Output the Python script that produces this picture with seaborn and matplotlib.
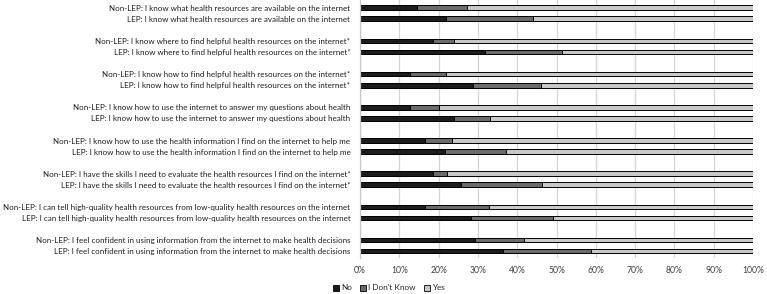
import matplotlib
matplotlib.use("Agg")
import matplotlib.pyplot as plt
from matplotlib.patches import Patch
import seaborn as sns
import pandas as pd

statements = [
    "I know what health resources are available on the internet",
    "I know where to find helpful health resources on the internet*",
    "I know how to find helpful health resources on the internet*",
    "I know how to use the internet to answer my questions about health",
    "I know how to use the health information I find on the internet to help me",
    "I have the skills I need to evaluate the health resources I find on the internet*",
    "I can tell high-quality health resources from low-quality health resources on the internet",
    "I feel confident in using information from the internet to make health decisions",
]
groups = ["Non-LEP", "LEP"]

# percentages per row (Non-LEP, LEP for each statement)
no_pct = [14.6, 21.9, 18.5, 31.7, 12.7, 28.7, 12.7, 23.9,
          16.6, 21.6, 18.5, 25.8, 16.6, 28.3, 29.2, 36.3]
dk_pct = [12.6, 22.2, 5.5, 19.6, 9.1, 17.3, 7.3, 9.3,
          6.9, 15.5, 3.7, 20.5, 16.2, 20.9, 12.5, 22.6]
yes_pct = [72.8, 55.9, 76.0, 48.7, 78.2, 54.0, 80.0, 66.8,
           76.5, 62.9, 77.8, 53.7, 67.2, 50.8, 58.3, 41.1]
series = ["No", "I Don't Know", "Yes"]
tick_labels = ["0%", "10%", "20%", "30%", "40%", "50%", "60%", "70%", "80%", "90%", "100%"]

rows = []
k = 0
for i, s in enumerate(statements):
    for j, g in enumerate(groups):
        pos = 3 * i + j
        rows.append(dict(pos=pos, label=f"{g}: {s}",
                         no=no_pct[k], dk=dk_pct[k], yes=yes_pct[k]))
        k += 1
df = pd.DataFrame(rows)
df["c_no"] = df["no"]
df["c_dk"] = df["no"] + df["dk"]
df["c_yes"] = df["no"] + df["dk"] + df["yes"]

sns.set_style("white")
plt.rcParams["font.family"] = ["Lato", "DejaVu Sans"]

colors = {"No": "#1c1c1c", "I Don't Know": "#6b6b6b", "Yes": "#c8c8c8"}

fig = plt.figure(figsize=(7.67, 2.94), dpi=100)
ax = fig.add_axes([360 / 767, 1 - 257.8 / 294, 393 / 767, 257.8 / 294])

for col, name in [("c_yes", "Yes"), ("c_dk", "I Don't Know"), ("c_no", "No")]:
    sns.barplot(data=df, x=col, y="pos", orient="h", native_scale=True,
                color=colors[name], edgecolor="black", linewidth=0.7,
                width=0.42, errorbar=None, ax=ax, saturation=1)

ax.set_xlim(0, 100)
ax.set_ylim(22.6, -0.7)
ax.set_xticks(range(0, 101, 10))
ax.set_xticklabels(tick_labels, fontsize=6.2, color="#404040")
ax.set_yticks(df["pos"])
ax.set_yticklabels(df["label"], fontsize=5.75, color="#1e1e1e")
ax.set_xlabel("")
ax.set_ylabel("")
ax.tick_params(axis="y", length=0, pad=7)
ax.tick_params(axis="x", length=0, pad=6)
ax.xaxis.grid(True, color="#d4d4d4", linewidth=0.9)
ax.yaxis.grid(False)
ax.set_axisbelow(True)
for sp in ["top", "right", "bottom"]:
    ax.spines[sp].set_visible(False)
ax.spines["left"].set_color("#c8c8c8")
ax.spines["left"].set_linewidth(0.9)

handles = [Patch(facecolor=colors[s], edgecolor="black", linewidth=0.6, label=s) for s in series]
fig.legend(handles=handles, loc="center", bbox_to_anchor=(389 / 767, 1 - 288 / 294),
           ncol=3, frameon=False, fontsize=5.9, handlelength=0.7, handleheight=0.7,
           handletextpad=0.3, columnspacing=1.0, borderpad=0)

fig.savefig("out.png", dpi=100)
